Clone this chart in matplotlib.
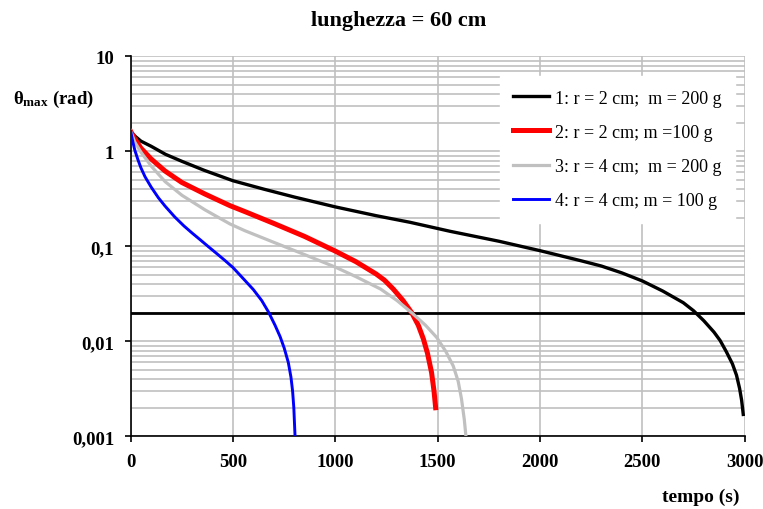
import numpy as np
import matplotlib
matplotlib.use("Agg")
import matplotlib.pyplot as plt

plt.rcParams['font.family'] = ['Liberation Serif', 'DejaVu Serif']
plt.rcParams['mathtext.fontset'] = 'custom'
plt.rcParams['mathtext.rm'] = 'Liberation Serif'
plt.rcParams['mathtext.bf'] = 'Liberation Serif:bold'
plt.rcParams['mathtext.it'] = 'Liberation Serif:italic'

# curve 1: r = 2 cm, m = 200 g
t1 = [0, 20, 50, 100, 170, 250, 360, 500, 650, 800, 1000, 1200, 1365, 1560, 1800,
      2000, 2200, 2300, 2400, 2500, 2600, 2700, 2750, 2800, 2850, 2880, 2910, 2940,
      2960, 2975, 2985, 2993]
th1 = [1.62, 1.45, 1.28, 1.13, 0.93, 0.785, 0.63, 0.49, 0.40, 0.33, 0.26, 0.21,
       0.179, 0.144, 0.113, 0.09, 0.0705, 0.062, 0.0525, 0.0432, 0.0338, 0.0255,
       0.021, 0.0165, 0.0125, 0.0102, 0.0078, 0.0058, 0.0044, 0.0032, 0.0024, 0.0017]

# curve 2: r = 2 cm, m = 100 g
t2 = [0, 20, 50, 100, 168, 250, 363, 485, 558, 700, 850, 1000, 1100, 1200, 1240,
      1283, 1330, 1373, 1405, 1430, 1450, 1470, 1482, 1490]
th2 = [1.62, 1.35, 1.08, 0.83, 0.62, 0.47, 0.355, 0.268, 0.232, 0.174, 0.127,
       0.089, 0.069, 0.051, 0.044, 0.0355, 0.027, 0.02, 0.0148, 0.0106, 0.0075,
       0.0047, 0.003, 0.002]

# curve 3: r = 4 cm, m = 200 g
t3 = [0, 20, 50, 100, 168, 250, 363, 485, 558, 700, 850, 1000, 1100, 1221, 1300,
      1373, 1440, 1495, 1540, 1576, 1600, 1616, 1630, 1638]
th3 = [1.62, 1.25, 0.98, 0.70, 0.48, 0.345, 0.242, 0.172, 0.146, 0.11, 0.0818,
       0.0604, 0.048, 0.0355, 0.027, 0.02, 0.0148, 0.011, 0.0078, 0.0055, 0.0038,
       0.0025, 0.0015, 0.001]

# curve 4: r = 4 cm, m = 100 g
t4 = [0, 10, 20, 35, 50, 70, 100, 135, 168, 216, 260, 300, 339, 380, 420, 461, 500,
      550, 599, 640, 673, 705, 730, 750, 770, 783, 791, 797, 803]
th4 = [1.62, 1.27, 1.03, 0.82, 0.67, 0.54, 0.42, 0.325, 0.265, 0.203, 0.164, 0.138,
       0.1175, 0.099, 0.084, 0.0708, 0.0597, 0.0457, 0.0351, 0.0269, 0.0204, 0.0148,
       0.0112, 0.0085, 0.006, 0.0042, 0.003, 0.002, 0.001]

soglia = 0.02
labels = ["1: r = 2 cm;  m = 200 g", "2: r = 2 cm; m =100 g",
          "3: r = 4 cm;  m = 200 g", "4: r = 4 cm; m = 100 g"]
yticks = [0.001, 0.01, 0.1, 1, 10]
yticklabels = ["0,001", "0,01", "0,1", "1", "10"]
xticks = [0, 500, 1000, 1500, 2000, 2500, 3000]

fig = plt.figure(figsize=(7.63, 5.10), dpi=100)
ax = fig.add_axes([0.1713, 0.1425, 0.976 - 0.1713, 0.8876 - 0.1425])

ax.set_yscale('log')
ax.set_xlim(0, 3000)
ax.set_ylim(0.001, 10)

ax.grid(True, which='major', axis='x', color='#c0c0c0', lw=1.2)
ax.grid(True, which='both', axis='y', color='#c0c0c0', lw=1.2)
ax.set_axisbelow(True)

ax.axhline(soglia, color='black', lw=2.0, zorder=2)
ax.plot(t1, th1, color='black', lw=2.4, label=labels[0], zorder=3)
ax.plot(t2, th2, color='#ff0000', lw=3.6, label=labels[1], zorder=3)
ax.plot(t3, th3, color='#c0c0c0', lw=2.3, label=labels[2], zorder=3)
ax.plot(t4, th4, color='#0000ff', lw=2.1, label=labels[3], zorder=4)

ax.set_xticks(xticks)
ax.set_xticklabels([str(x) for x in xticks])
ax.set_yticks(yticks)
ax.set_yticklabels(yticklabels)
ax.yaxis.set_minor_formatter(matplotlib.ticker.NullFormatter())
ax.tick_params(axis='y', which='minor', length=0)
ax.tick_params(axis='both', which='major', direction='out', length=4, width=1.2,
               labelsize=13.5, pad=8)
ax.tick_params(axis='x', pad=8)
for lab in ax.get_xticklabels() + ax.get_yticklabels():
    lab.set_fontweight('bold')

for s in ['top', 'right']:
    ax.spines[s].set_visible(False)
for s in ['left', 'bottom']:
    ax.spines[s].set_linewidth(1.2)

leg = ax.legend(loc='upper right', bbox_to_anchor=(0.984, 0.948), borderaxespad=0,
                fontsize=13, frameon=True, fancybox=False, edgecolor='white',
                framealpha=1, handlelength=2.0, handletextpad=0.3,
                labelspacing=0.95, borderpad=0.75)

fig.text(0.522, 0.958, "lunghezza = 60 cm", ha='center', va='center',
         fontsize=16, fontweight='bold')
fig.text(0.017, 0.805, r"$\mathbf{\theta_{max}}$ (rad)", ha='left', va='center',
         fontsize=13.5, fontweight='bold')
fig.text(0.918, 0.025, "tempo (s)", ha='center', va='center',
         fontsize=14, fontweight='bold')

fig.savefig("out.png", dpi=100)
